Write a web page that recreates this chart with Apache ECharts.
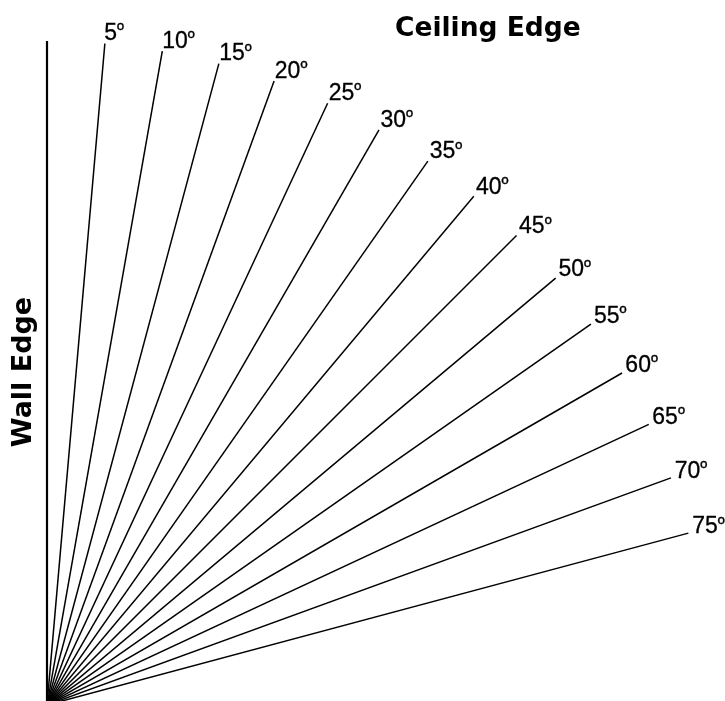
<!DOCTYPE html>
<html>
<head>
<meta charset="utf-8">
<script src="https://cdn.jsdelivr.net/npm/echarts@6/dist/echarts.min.js"></script>
<style>
html,body{margin:0;padding:0;background:#fff;}
#chart{width:725px;height:701px;}
</style>
</head>
<body>
<div id="chart"></div>
<script>
// Angles (degrees from the wall edge) of the radial guide lines
const angles = [5, 10, 15, 20, 25, 30, 35, 40, 45, 50, 55, 60, 65, 70, 75];
const angleLabels = ['5','10','15','20','25','30','35','40','45','50','55','60','65','70','75'];
const degreeMark = 'º';
const lineLength = 100;          // all lines share the same length (radius)
const wallAngle = 0;
const ceilingTitle = 'Ceiling Edge';
const wallTitle = 'Wall Edge';

const chart = echarts.init(document.getElementById('chart'), null, {renderer: 'canvas'});

const LINE_PX = 664;              // pixel length of every line
const LABEL_GAP_PX = 5;           // labels sit just beyond line ends
const labelRadius = lineLength * (LINE_PX + LABEL_GAP_PX) / LINE_PX;

const series = [];
series.push({
  type: 'line',
  coordinateSystem: 'polar',
  symbol: 'none',
  silent: true,
  animation: false,
  lineStyle: {color: '#000', width: 2.2},
  data: [[0, wallAngle], [lineLength, wallAngle]]
});
angles.forEach((a) => {
  series.push({
    type: 'line',
    coordinateSystem: 'polar',
    symbol: 'none',
    silent: true,
    animation: false,
    lineStyle: {color: '#000', width: 1.5},
    data: [[0, a], [lineLength, a]]
  });
});
const labelFamily = '"Liberation Sans", Arial, sans-serif';
series.push({
  type: 'scatter',
  coordinateSystem: 'polar',
  symbolSize: 0,
  silent: true,
  animation: false,
  itemStyle: {opacity: 1, color: '#000'},
  labelLayout: {hideOverlap: false},
  label: {
    show: true,
    position: [-1, 7],
    align: 'left',
    verticalAlign: 'bottom',
    color: '#000',
    opacity: 1,
    formatter: (p) => '{d|' + angleLabels[p.dataIndex] + '}{o|' + degreeMark + '}',
    rich: {
      d: {fontFamily: labelFamily, fontSize: 23, lineHeight: 24, color: '#000',
          textBorderColor: '#000', textBorderWidth: 0.3},
      o: {fontFamily: labelFamily, fontSize: 19, lineHeight: 24, verticalAlign: 'top', color: '#000',
          textBorderColor: '#000', textBorderWidth: 0.3}
    }
  },
  data: angles.map((a) => [labelRadius, a])
});

chart.setOption({
  backgroundColor: '#fff',
  animation: false,
  polar: {center: [47, 705], radius: LINE_PX + LABEL_GAP_PX},
  angleAxis: {
    type: 'value', min: 0, max: 360, startAngle: 90, clockwise: true,
    show: false, splitLine: {show: false}
  },
  radiusAxis: {
    type: 'value', min: 0, max: labelRadius, show: false, splitLine: {show: false}
  },
  title: {
    text: ceilingTitle,
    left: 390, top: 11,
    textStyle: {fontFamily: '"DejaVu Sans", sans-serif', fontWeight: 'bold', fontSize: 26.5, color: '#000'}
  },
  graphic: [{
    type: 'text',
    x: 24, y: 372,
    rotation: Math.PI / 2,
    style: {
      text: wallTitle,
      fontFamily: '"DejaVu Sans", sans-serif', fontWeight: 'bold', fontSize: 27,
      fill: '#000', align: 'center', verticalAlign: 'middle'
    }
  }],
  series: series
});
</script>
</body>
</html>
